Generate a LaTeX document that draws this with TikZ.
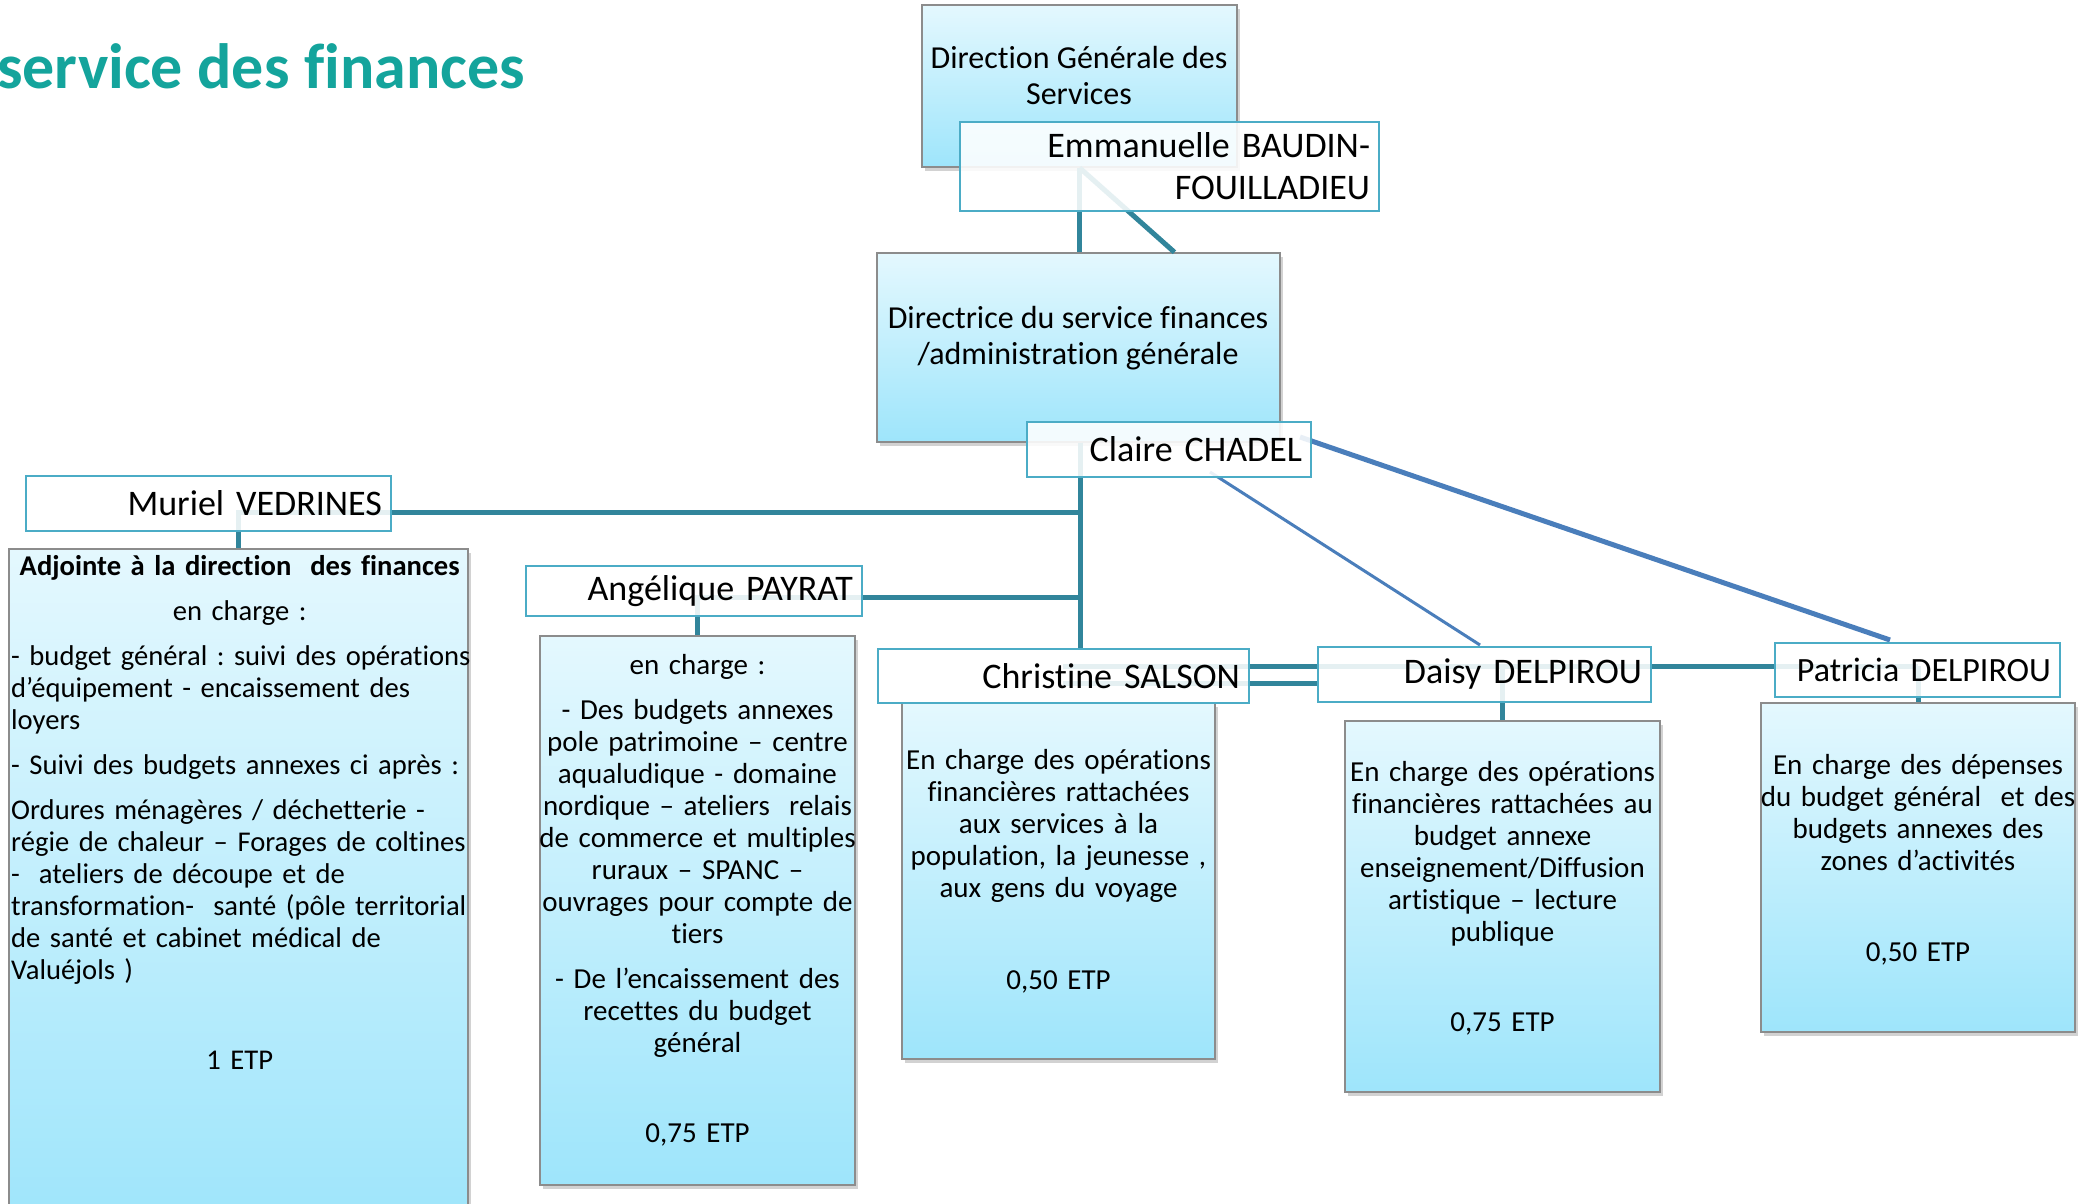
\documentclass[tikz,border=0pt]{standalone}
\usepackage{fontspec}
\setmainfont{Carlito}[Ligatures=NoCommon]
\usetikzlibrary{shadows}
\frenchspacing

\definecolor{linkTeal}{RGB}{49,133,155}
\definecolor{linkBlue}{RGB}{74,126,187}
\definecolor{nameBorder}{RGB}{75,172,198}
\definecolor{boxTop}{RGB}{228,248,254}
\definecolor{boxBottom}{RGB}{158,229,251}
\definecolor{titleTeal}{RGB}{20,164,156}

\tikzset{
	rolebox/.style={draw=black!45, line width=1.5pt, rectangle, inner sep=0pt,
		top color=boxTop, bottom color=boxBottom,
		drop shadow={shadow xshift=3pt, shadow yshift=-4pt, opacity=0.35}},
	namebox/.style={draw=nameBorder, line width=2pt, rectangle, fill=white,
		fill opacity=0.88, text opacity=1, inner xsep=9pt, inner ysep=0pt,
		align=right, font=\fontsize{36}{42}\selectfont},
	roletext/.style={anchor=north, align=center, inner sep=0pt,
		font=\fontsize{32}{36}\selectfont},
	tasktext/.style={anchor=north, align=center, inner sep=0pt, text width=400pt,
		font=\fontsize{29}{32}\selectfont},
	teallink/.style={draw=linkTeal, line width=5pt},
	bluelink/.style={draw=linkBlue, line width=5pt},
}

\begin{document}
\begin{tikzpicture}[x=1pt, y=-1pt]
	
	\useasboundingbox (0,0) rectangle (2080,1203);
	\clip (0,0) rectangle (2080,1203);
	\fill[white] (0,0) rectangle (2080,1203);
	
	%Title
	\node (title) at (-3,88) [anchor=base west, inner sep=0pt, text=titleTeal,
	font=\fontsize{64}{70}\selectfont\bfseries]{service des finances};
	
	%Role blocks
	\node (dgs) at (1079.5,86) [rolebox, minimum width=315pt, minimum height=162pt]{};
	\node (dgsText) at (1079,46) [roletext]{Direction Générale des\\Services};
	\node (dirFin) at (1078.5,347.5) [rolebox, minimum width=403pt, minimum height=189pt]{};
	\node (dirFinText) at (1078,306) [roletext]{Directrice du service finances\\/administration générale};
	
	%Task blocks
	\node (murielTasks) at (238.5,889.5) [rolebox, minimum width=459pt, minimum height=681pt]{};
	\node (angeliqueTasks) at (697.5,910.5) [rolebox, minimum width=315pt, minimum height=549pt]{};
	\node (christineTasks) at (1058.5,881) [rolebox, minimum width=313pt, minimum height=356pt]{};
	\node (daisyTasks) at (1502.5,906.5) [rolebox, minimum width=315pt, minimum height=371pt]{};
	\node (patriciaTasks) at (1918,867.5) [rolebox, minimum width=314pt, minimum height=329pt]{};
	
	%Task texts
	\node (murielText) at (11,555) [tasktext, anchor=north west, align=left, text width=520pt,
	font=\fontsize{28.6}{32}\selectfont]{%
		\makebox[457pt]{\bfseries Adjointe à la direction\ \ des finances}\\[13pt]
		\makebox[457pt]{en charge :}\\[13pt]
		- budget général : suivi des opérations\\
		d’équipement - encaissement des\\
		loyers\\[13pt]
		- Suivi des budgets annexes ci après :\\[13pt]
		Ordures ménagères / déchetterie -\\
		régie de chaleur – Forages de coltines\\
		-\ \ ateliers de découpe et de\\
		transformation-\ \ santé (pôle territorial\\
		de santé et cabinet médical de\\
		Valuéjols )\\[58pt]
		\makebox[457pt]{1 ETP}};
	\node (angeliqueText) at (697.5,654) [tasktext]{en charge :\\[13pt]
		- Des budgets annexes\\pole patrimoine – centre\\aqualudique - domaine\\
		nordique – ateliers\ \ relais\\de commerce et multiples\\ruraux – SPANC –\\
		ouvrages pour compte de\\tiers\\[13pt]
		- De l’encaissement des\\recettes du budget\\général\\[58pt]
		0,75 ETP};
	\node (christineText) at (1058.5,749) [tasktext]{En charge des opérations\\
		financières rattachées\\aux services à la\\population, la jeunesse ,\\
		aux gens du voyage\\[60pt]
		0,50 ETP};
	\node (daisyText) at (1502.5,761) [tasktext]{En charge des opérations\\
		financières rattachées au\\budget annexe\\enseignement/Diffusion\\
		artistique – lecture\\publique\\[58pt]
		0,75 ETP};
	\node (patriciaText) at (1918,754) [tasktext]{En charge des dépenses\\
		du budget général\ \ et des\\budgets annexes des\\zones d’activités\\[59pt]
		0,50 ETP};
	
	%Junctions on the trunk
	\coordinate (jMuriel) at (1080,512);
	\coordinate (jAngelique) at (1080,597);
	
	%Links
	\draw[teallink] (dgs.south) -- (dgs.south |- dirFin.north);
	\draw[teallink] (dgs.south) -- ([xshift=96pt]dirFin.north);
	\draw[teallink] (dirFin.south -| jMuriel) -- (jMuriel |- 0,649);
	\draw[teallink] (jMuriel) -| (murielTasks.north);
	\draw[teallink] (jAngelique) -| (angeliqueTasks.north);
	\draw[teallink] (angeliqueTasks.north |- 0,616) -- (angeliqueTasks.north);
	\draw[teallink] (1063,666) -- (1485,666);
	\draw[teallink] (1063,683) -- (1318,683);
	\draw[teallink] (1485,666) -- (1918,666);
	\draw[teallink] (daisyTasks.north |- 0,666) -- (daisyTasks.north);
	\draw[teallink] (patriciaTasks.north |- 0,666) -- (patriciaTasks.north);
	\draw[bluelink] (1300,437) -- (1890,640);
	\draw[linkBlue, line width=3pt] (1210,472) -- (1480,645);
	
	%Names
	\node (dgsName) at (1169.5,166.5) [namebox, minimum width=419pt, minimum height=89pt,
	text width=401pt]{Emmanuelle BAUDIN-\\FOUILLADIEU};
	\node (dirName) at (1169,449.5) [namebox, minimum width=284pt, minimum height=55pt,
	text width=266pt]{Claire CHADEL};
	\node (muriel) at (208.5,503.5) [namebox, minimum width=365pt, minimum height=55pt,
	text width=347pt]{Muriel VEDRINES};
	\node (angelique) at (694,591) [namebox, minimum width=336pt, minimum height=50pt,
	text width=318pt]{Angélique PAYRAT};
	\node (christine) at (1063.5,676) [namebox, minimum width=371pt, minimum height=54pt,
	text width=353pt]{Christine SALSON};
	\node (daisy) at (1484.5,674.5) [namebox, minimum width=333pt, minimum height=55pt,
	text width=315pt]{Daisy DELPIROU};
	\node (patricia) at (1917.5,670) [namebox, minimum width=283pt, minimum height=54pt,
	text width=267pt, font=\fontsize{34}{40}\selectfont]{Patricia DELPIROU};
	
\end{tikzpicture}
\end{document}
